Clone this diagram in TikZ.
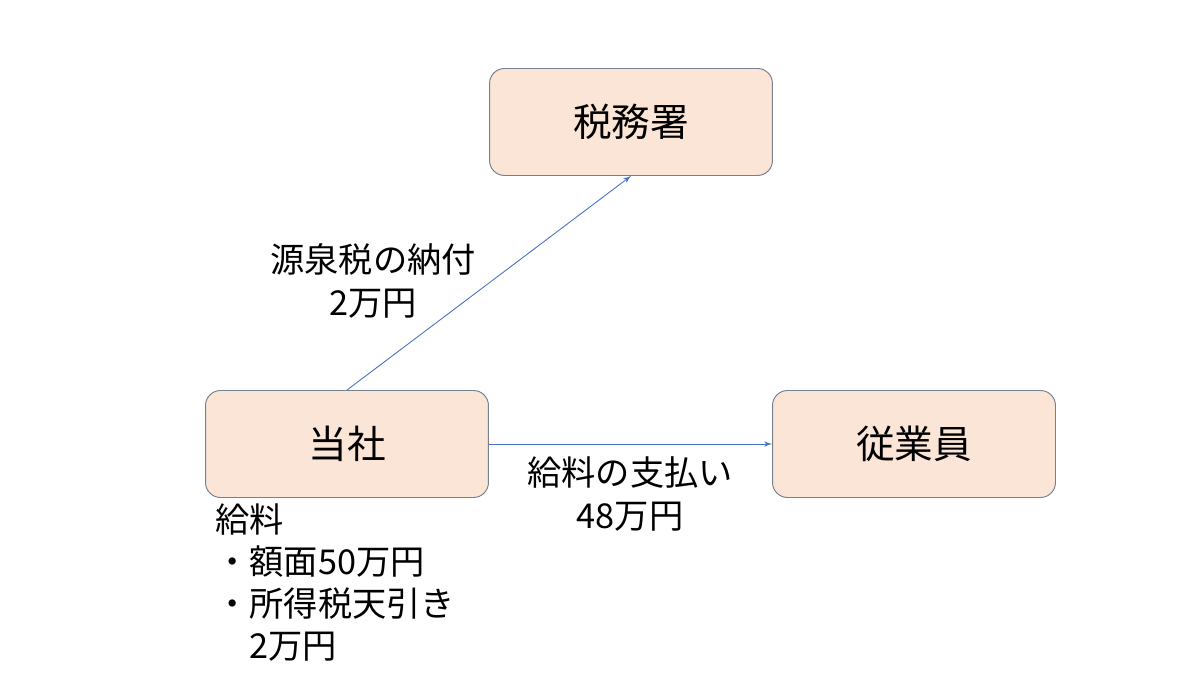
\documentclass[tikz,border=0pt]{standalone}
\usepackage{fontspec}
\setmainfont{Noto Sans CJK JP}
\usepackage{tikz}
\usetikzlibrary{arrows}
\definecolor{boxfill}{HTML}{FBE5D6}
\definecolor{boxline}{HTML}{76808F}
\definecolor{arrowblue}{HTML}{4472C4}
\begin{document}
\begin{tikzpicture}[>=latex',x=0.02cm,y=-0.02cm]
  \tikzstyle{party}=[rectangle,rounded corners=0.3cm,fill=boxfill,draw=boxline,
                     line width=0.55pt,minimum width=5.66cm,minimum height=2.14cm,
                     font=\fontsize{22}{26}\selectfont]
  \tikzstyle{memo}=[font=\fontsize{19.5}{24}\selectfont,inner sep=0pt]
  \tikzstyle{flow}=[arrowblue,->,line width=0.5pt]
  \useasboundingbox (0,0) rectangle (1200,675);

  \node[party] (zeimusho) at (631,122) {税務署};
  \node[party] (tousha)   at (347,444) {当社};
  \node[party] (jugyoin)  at (914,444) {従業員};

  \draw[flow] (tousha.north) -- (zeimusho.south);
  \draw[flow] (tousha) -- (jugyoin);

  \node[memo,align=center] (nofu)   at (373,281) {源泉税の納付\\2万円};
  \node[memo,align=center] (shiharai) at (630,494) {給料の支払い\\48万円};
  \node[memo,align=left,anchor=north west] (kyuryo) at (215,503)
        {給料\\・額面50万円\\・所得税天引き\\\phantom{・}2万円};
\end{tikzpicture}
\end{document}
